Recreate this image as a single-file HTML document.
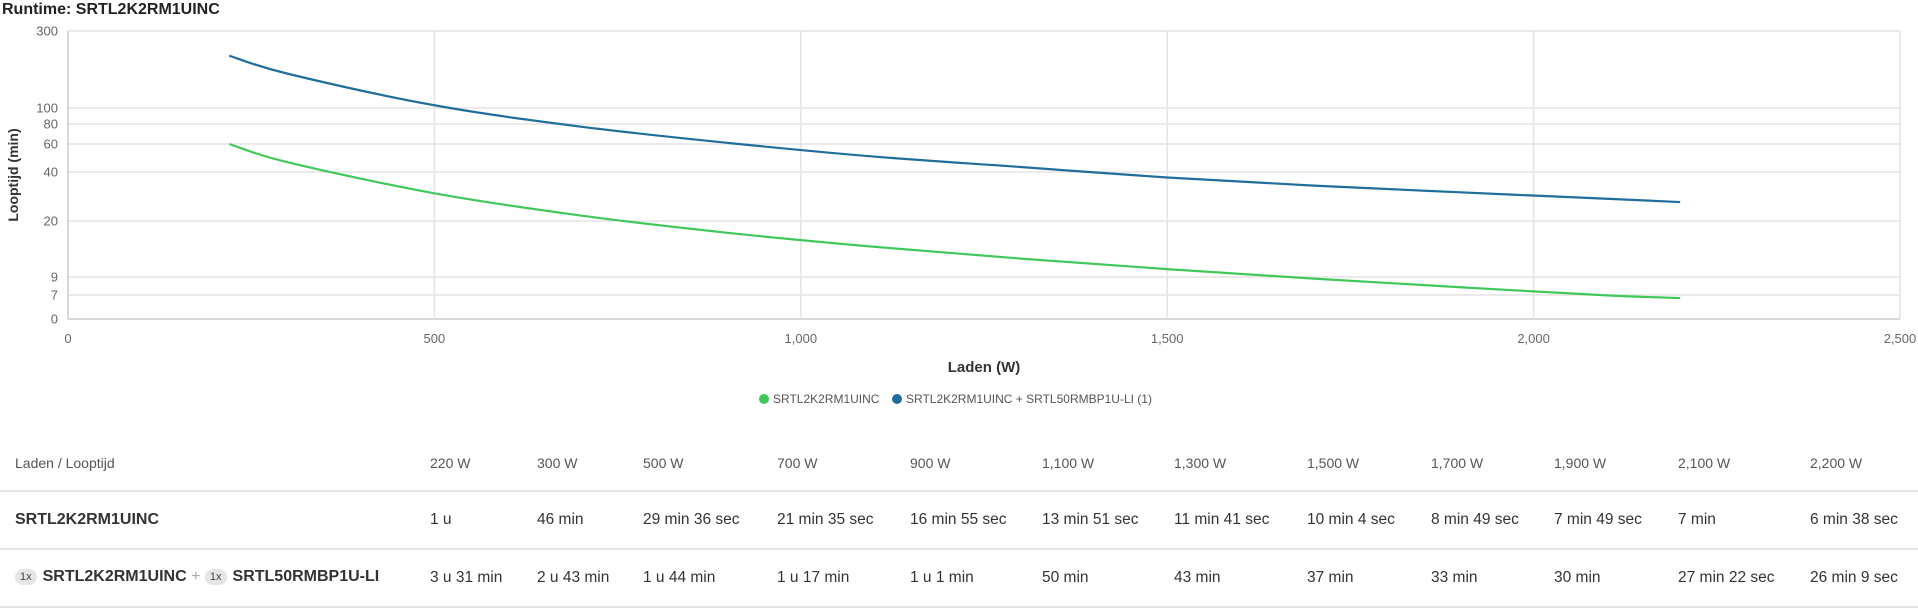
<!DOCTYPE html>
<html><head><meta charset="utf-8"><style>
body{margin:0;width:1918px;height:612px;background:#fff;font-family:"Liberation Sans",Arial,sans-serif;overflow:hidden;position:relative}
.t{position:absolute;white-space:nowrap}
.h{font-size:14px;color:#555;top:455px}
.r{font-size:15.5px;color:#333}
.line{position:absolute;left:0;width:1918px;height:2px;background:#e6e6e6}
.b{display:inline-block;background:#e6e6e6;border-radius:9px;font-size:11px;color:#444;padding:2px 5px;margin-right:6px;vertical-align:1px;font-weight:normal}
</style></head><body>
<div class="t" style="left:2px;top:1px;font-size:16px;font-weight:bold;color:#222">Runtime: SRTL2K2RM1UINC</div>
<svg id="s" width="1918" height="440" style="position:absolute;left:0;top:0" font-family="Liberation Sans, Arial, sans-serif"></svg>
<div class="t h" style="left:15px">Laden / Looptijd</div>
<div class="line" style="top:490px"></div>
<div class="t r" style="left:15px;top:511px;font-weight:bold;font-size:16px">SRTL2K2RM1UINC</div>
<div class="line" style="top:548px"></div>
<div class="t r" style="left:15px;top:568px;font-weight:bold;font-size:16px"><span class="b">1x</span>SRTL2K2RM1UINC <span style="color:#aaa;font-weight:normal">+</span> <span class="b">1x</span>SRTL50RMBP1U-LI</div>
<div class="line" style="top:606px"></div>
<div id="cols"></div>
<script>
var xs=[430,537,643,777,910,1042,1174,1307,1431,1554,1678,1810];
var hd=["220 W","300 W","500 W","700 W","900 W","1,100 W","1,300 W","1,500 W","1,700 W","1,900 W","2,100 W","2,200 W"];
var r1=["1 u","46 min","29 min 36 sec","21 min 35 sec","16 min 55 sec","13 min 51 sec","11 min 41 sec","10 min 4 sec","8 min 49 sec","7 min 49 sec","7 min","6 min 38 sec"];
var r2=["3 u 31 min","2 u 43 min","1 u 44 min","1 u 17 min","1 u 1 min","50 min","43 min","37 min","33 min","30 min","27 min 22 sec","26 min 9 sec"];
var h="";
for(var i=0;i<12;i++){h+='<div class="t h" style="left:'+xs[i]+'px">'+hd[i]+'</div><div class="t r" style="left:'+xs[i]+'px;top:511px">'+r1[i]+'</div><div class="t r" style="left:'+xs[i]+'px;top:569px">'+r2[i]+'</div>';}
document.getElementById('cols').innerHTML=h;
var tv=[0,7,9,20,40,60,80,100,300],ty=[319,295,277,221,172,144,124,108,31];
function Y(v){for(var i=1;i<tv.length;i++){if(v<=tv[i]){if(i==1)return ty[0]+(ty[1]-ty[0])*v/7;var f=Math.log(v/tv[i-1])/Math.log(tv[i]/tv[i-1]);return ty[i-1]+(ty[i]-ty[i-1])*f;}}return 31;}
function X(w){return 68+w*0.7328;}
var s="";
for(var i=0;i<tv.length;i++){s+='<line x1="68" x2="1900" y1="'+ty[i]+'" y2="'+ty[i]+'" stroke="'+(i==0?'#ccc':'#e3e3e3')+'" stroke-width="1.5"/><text x="58" y="'+(ty[i]+4.5)+'" font-size="13" fill="#666" text-anchor="end">'+tv[i]+'</text>';}
var xl=["0","500","1,000","1,500","2,000","2,500"];
for(var i=0;i<6;i++){var x=X(i*500);s+='<line x1="'+x+'" x2="'+x+'" y1="31" y2="319" stroke="'+(i==0?'#ccc':'#e3e3e3')+'" stroke-width="1.5"/><text x="'+x+'" y="343" font-size="13" fill="#666" text-anchor="middle">'+xl[i]+'</text>';}
var W=[220,300,500,700,900,1100,1300,1500,1700,1900,2100,2200];
var G=[60,46,29.6,21.6,16.9,13.85,11.7,10.07,8.8,7.8,6.9,6.1];
var B=[211,163,104,77,61,50,43,37,33,30,27.4,26.15];
function path(D){var p=W.map(function(w,i){return [X(w),Y(D[i])]});var d="M"+p[0][0]+","+p[0][1];
for(var i=0;i<p.length-1;i++){var p0=p[Math.max(i-1,0)],p1=p[i],p2=p[i+1],p3=p[Math.min(i+2,p.length-1)];
d+=" C"+(p1[0]+(p2[0]-p0[0])/6)+","+(p1[1]+(p2[1]-p0[1])/6)+" "+(p2[0]-(p3[0]-p1[0])/6)+","+(p2[1]-(p3[1]-p1[1])/6)+" "+p2[0]+","+p2[1];}return d;}
s+='<path d="'+path(B)+'" fill="none" stroke="#1f6e9c" stroke-width="2.2"/>';
s+='<path d="'+path(G)+'" fill="none" stroke="#40c95a" stroke-width="2.2"/>';
s+='<text x="984" y="372" font-size="15" font-weight="bold" fill="#333" text-anchor="middle">Laden (W)</text>';
s+='<text transform="translate(18,175) rotate(-90)" font-size="14" font-weight="bold" fill="#333" text-anchor="middle">Looptijd (min)</text>';
s+='<circle cx="764" cy="399" r="5" fill="#40c95a"/><text x="773" y="403" font-size="12" fill="#555">SRTL2K2RM1UINC</text>';
s+='<circle cx="897" cy="399" r="5" fill="#1f6e9c"/><text x="906" y="403" font-size="12" fill="#555">SRTL2K2RM1UINC + SRTL50RMBP1U-LI (1)</text>';
document.getElementById('s').innerHTML=s;
</script>
</body></html>
